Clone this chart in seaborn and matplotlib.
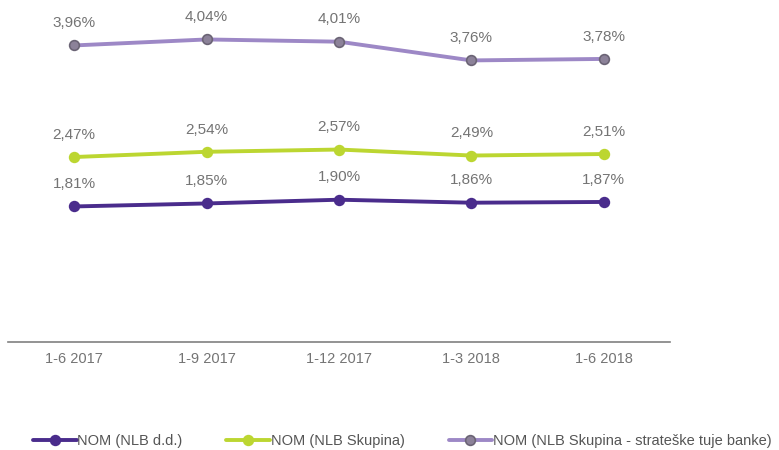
import pandas as pd
import seaborn as sns
import matplotlib.pyplot as plt

# Chart data
periods = ['1-6 2017', '1-9 2017', '1-12 2017', '1-3 2018', '1-6 2018']
nom_dd = [1.81, 1.85, 1.90, 1.86, 1.87]
nom_skupina = [2.47, 2.54, 2.57, 2.49, 2.51]
nom_tuje = [3.96, 4.04, 4.01, 3.76, 3.78]
series_names = ['NOM (NLB d.d.)', 'NOM (NLB Skupina)', 'NOM (NLB Skupina - strateške tuje banke)']

sns.set_style('white')
plt.rcParams['font.family'] = ['Liberation Sans', 'DejaVu Sans']

fig = plt.figure(figsize=(7.79, 4.5), dpi=100)
ax = fig.add_axes([8 / 779, 108 / 450, 662 / 779, 337 / 450])

styles = [
    dict(color='#4a2c8c', mfc='#4a2c8c', mec='#4a2c8c'),
    dict(color='#bcd631', mfc='#bcd631', mec='#bcd631'),
    dict(color='#9d88c6', mfc='#8c8299', mec='#6b6475'),
]

for name, vals, st in zip(series_names, [nom_dd, nom_skupina, nom_tuje], styles):
    df = pd.DataFrame({'Period': periods, 'Value': vals})
    sns.lineplot(data=df, x='Period', y='Value', ax=ax, sort=False, color=st['color'],
                 linewidth=2.8, marker='o', markersize=7, markerfacecolor=st['mfc'],
                 markeredgecolor=st['mec'], markeredgewidth=1.2, label=name)
    for i, v in enumerate(vals):
        ax.annotate(f'{v:.2f}'.replace('.', ',') + '%', (i, v), xytext=(0, 11),
                    textcoords='offset points', ha='center', va='bottom',
                    fontsize=11, color='#747474')

ax.set_xlim(-0.5, 4.5)
ax.set_ylim(0, 4.5)
ax.set_xlabel('')
ax.set_ylabel('')
ax.set_yticks([])
for s in ['top', 'left', 'right']:
    ax.spines[s].set_visible(False)
ax.spines['bottom'].set_color('#808080')
ax.spines['bottom'].set_linewidth(1.2)
ax.tick_params(axis='x', length=0, pad=7, labelsize=10.5, labelcolor='#747474')

handles, labels = ax.get_legend_handles_labels()
ax.get_legend().remove()
fig.legend(handles, labels, loc='lower left', bbox_to_anchor=(33 / 779, 2 / 450), ncol=3,
           frameon=False, fontsize=10.5, handlelength=3.0, handletextpad=0.05,
           columnspacing=3.0, borderpad=0, borderaxespad=0, labelcolor='#555555')

fig.savefig('out.png', dpi=100)
